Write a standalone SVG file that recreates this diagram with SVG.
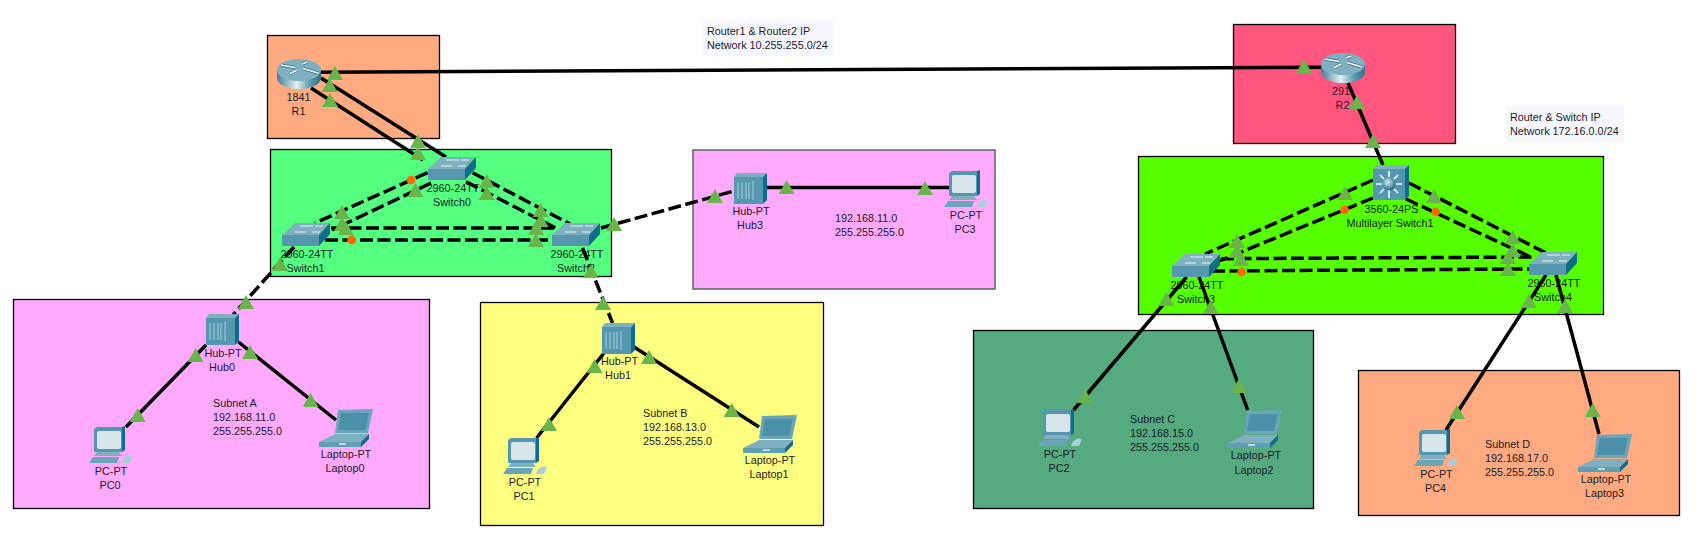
<svg xmlns="http://www.w3.org/2000/svg" width="1702" height="550" viewBox="0 0 1702 550">
<style>
text{font-family:"Liberation Sans",Arial,sans-serif;font-size:10.8px;fill:#1a1a2a}
.lb{text-anchor:middle}
.area{stroke:#000;stroke-width:1.3}
.note{fill:#f7f8ff}
.link{stroke:#000;stroke-width:3.5;fill:none}
.dash{stroke-dasharray:13 4.5}
.tri{fill:#69b54b}
.ora{fill:#ff6a00}
</style>
<defs>
<linearGradient id="gBody" x1="0" x2="1" y1="0" y2="0"><stop offset="0" stop-color="#3f7f95"/><stop offset=".45" stop-color="#e4f0f2"/><stop offset=".75" stop-color="#5b9bb0"/><stop offset="1" stop-color="#2f7188"/></linearGradient>
<radialGradient id="gBall" cx=".4" cy=".35" r=".7"><stop offset="0" stop-color="#dcecf0"/><stop offset=".6" stop-color="#5f9fb4"/><stop offset="1" stop-color="#1f5a70"/></radialGradient>
<polygon id="t" class="tri" points="-8,0 0,-14 8,0"/>
<g id="router">
<path d="M0,11V19A22,11 0 0 0 44,19V11Z" fill="url(#gBody)"/>
<ellipse cx="22" cy="11" rx="22" ry="11" fill="#7fb0c2"/>
<path d="M4,6 18,8.5M25,5 30,3M26,9.5 41,14M13,14.5 20,11" stroke="#2f6579" stroke-width="3" fill="none"/>
<path d="M4,6 18,8.5M25,5 30,3M26,9.5 41,14M13,14.5 20,11" stroke="#fff" stroke-width="1.7" fill="none"/>
</g>
<g id="switch">
<polygon points="0,12 37,12 37,23 0,23" fill="#5497af"/>
<polygon points="0,12 13,0 48,0 37,12" fill="#7fb0c0"/>
<polygon points="37,12 48,0 48,11 37,23" fill="#0f6d8c"/>
<path d="M13,9H24M18,3H31M33,3H41M30,9H38" stroke="#e8f4f6" stroke-width="1.2"/>
</g>
<g id="hub">
<polygon points="0,4 29,4 29,31 0,31" fill="#5497af"/>
<polygon points="0,4 3,0 33,0 29,4" fill="#7fb0c0"/>
<polygon points="29,4 33,0 33,27 29,31" fill="#0f6d8c"/>
<path d="M4,9V26M8,9V26M12,9V26M15,9V26M19,8V27" stroke="#a8d0dc" stroke-width="1"/>
</g>
<g id="ml">
<polygon points="0,4 32,4 32,35 0,35" fill="#5497af"/>
<polygon points="0,4 3,0 36,0 32,4" fill="#7fb0c0"/>
<polygon points="32,4 36,0 36,31 32,35" fill="#0f6d8c"/>
<path d="M16,6V12M16,25V33M3,19H9M23,19H29M7,10 11,14M25,10 21,14M7,28 11,24M25,28 21,24" stroke="#f2f8fa" stroke-width="1.7"/>
<circle cx="16" cy="19" r="6.3" fill="url(#gBall)"/>
</g>
<g id="pc">
<polygon points="5,2 8,0 33,0 33,25 5,25" fill="#5497af"/>
<polygon points="33,0 36,-1 36,23 33,25" fill="#0f6d8c"/>
<rect x="8" y="4" width="24" height="18" rx="2" fill="#d8e6ec"/>
<polygon points="8,25 30,25 33,29 5,29" fill="#7fb0c0"/>
<polygon points="4,30 30,30 28,36 0,36" fill="#6aa5b9"/>
<path d="M34,33Q38,27 44,29L41,36H33Z" fill="#a8d0dc"/>
</g>
<g id="laptop">
<polygon points="19,1 54,0 49,24 16,24" fill="#6aa5b9"/>
<polygon points="22,4 50,4 46,21 19,21" fill="#4b8fa8"/>
<polygon points="16,25 50,25 42,33 0,33" fill="#7fb0c0"/>
<polygon points="0,33 42,33 42,38 0,38" fill="#5f9fb4"/>
<polygon points="42,33 50,25 50,30 42,38" fill="#0f6d8c"/>
<path d="M20,35H27" stroke="#dcecf0" stroke-width="1.5"/>
</g>
</defs>

<g id="areas">
<rect class="area" x="267.5" y="35.5" width="172" height="103" fill="#ffaa80"/>
<rect class="area" x="270.5" y="149.5" width="341" height="127" fill="#55ff80"/>
<rect class="area" x="13.5" y="299.5" width="416" height="209" fill="#ffaaff"/>
<rect class="area" x="480.5" y="302.5" width="343" height="223" fill="#ffff80"/>
<rect x="693" y="150" width="302" height="139" fill="#ffaaff" stroke="#6a6a6a" stroke-width="1.6"/>
<rect class="area" x="1233.5" y="24.5" width="222" height="119" fill="#ff557f"/>
<rect class="area" x="1138.5" y="156.5" width="465" height="158" fill="#55ff00"/>
<rect class="area" x="973.5" y="330.5" width="340" height="178" fill="#55aa80"/>
<rect class="area" x="1358.5" y="370.5" width="321" height="145" fill="#ffaa80"/>
</g>

<g id="notes">
<g id="note-r1r2"><rect class="note" x="703" y="20" width="130" height="36"/><text x="707" y="35">Router1 &amp; Router2 IP</text><text x="707" y="49">Network 10.255.255.0/24</text></g>
<g id="note-rsw"><rect class="note" x="1506" y="106" width="118" height="36"/><text x="1510" y="121">Router &amp; Switch IP</text><text x="1510" y="135">Network 172.16.0.0/24</text></g>
<g id="note-a"><text x="213" y="407">Subnet A</text><text x="213" y="421">192.168.11.0</text><text x="213" y="435">255.255.255.0</text></g>
<g id="note-b"><text x="643" y="417">Subnet B</text><text x="643" y="431">192.168.13.0</text><text x="643" y="445">255.255.255.0</text></g>
<g id="note-hub3"><text x="835" y="222">192.168.11.0</text><text x="835" y="236">255.255.255.0</text></g>
<g id="note-c"><text x="1130" y="423">Subnet C</text><text x="1130" y="437">192.168.15.0</text><text x="1130" y="451">255.255.255.0</text></g>
<g id="note-d"><text x="1485" y="448">Subnet D</text><text x="1485" y="462">192.168.17.0</text><text x="1485" y="476">255.255.255.0</text></g>
</g>

<g id="labels-r1"><text class="lb" x="298.5" y="101">1841</text><text class="lb" x="298.5" y="115">R1</text></g>
<g id="labels-r2"><text x="1332" y="95">291</text><text class="lb" x="1342.5" y="109">R2</text></g>
<g id="labels-sw"><text class="lb" x="453" y="192">2960-24TT</text><text class="lb" x="452" y="206">Switch0</text>
<text class="lb" x="307" y="258">2960-24TT</text><text class="lb" x="305.5" y="272">Switch1</text>
<text class="lb" x="577" y="258">2960-24TT</text><text class="lb" x="576" y="272">Switch2</text>
<text class="lb" x="1197" y="289">2960-24TT</text><text class="lb" x="1196" y="303">Switch3</text>
<text class="lb" x="1554" y="287">2960-24TT</text><text class="lb" x="1553" y="301">Switch4</text></g>

<g id="connectors">
<path class="link" d="M321,72.3 1321,67.3"/>
<path class="link" d="M321,78 446,157M311,88 423,160"/>
<path class="link dash" d="M427.5,172.7 315,223M431,183 332,230"/>
<path class="link dash" d="M472.6,172.7 570,224M466,181.7 557.6,229"/>
<path class="link dash" d="M331,228H555.5M325,240H552"/>
<path class="link dash" d="M294,247 233,315"/>
<path class="link dash" d="M582.5,248 612.5,323"/>
<path class="link dash" d="M601,228 734,191"/>
<path class="link" d="M206,345 126,427M238.5,342 336,420"/>
<path class="link" d="M604,353 536.6,438M634,347 759,427"/>
<path class="link" d="M767,187.5H949"/>
<path class="link" d="M1348,83 1383,165"/>
<path class="link dash" d="M1373,180 1205,254M1373,198 1219,261"/>
<path class="link dash" d="M1409,183 1546,253M1406,199 1533,258"/>
<path class="link dash" d="M1221,258.7 1533,257M1212,271 1529,269"/>
<path class="link" d="M1186.5,277 1073.6,410M1199,277 1247.7,410"/>
<path class="link" d="M1546,275 1446,430M1556,275 1599,434"/>
</g>

<g id="R1"><use href="#router" x="277" y="59"/></g>
<g id="R2"><use href="#router" x="1321" y="53"/></g>
<g id="Switch0"><use href="#switch" x="428" y="157"/></g>
<g id="Switch1"><use href="#switch" x="282" y="223"/></g>
<g id="Switch2"><use href="#switch" x="552" y="223"/></g>
<g id="Switch3"><use href="#switch" x="1172" y="254"/></g>
<g id="Switch4"><use href="#switch" x="1529" y="252"/></g>
<g id="MultilayerSwitch1"><use href="#ml" x="1373" y="165"/><text class="lb" x="1391.5" y="213">3560-24PS</text><text class="lb" x="1390" y="227">Multilayer Switch1</text></g>
<g id="Hub0"><use href="#hub" x="206" y="314"/><text class="lb" x="223" y="357">Hub-PT</text><text class="lb" x="222" y="371">Hub0</text></g>
<g id="Hub1"><use href="#hub" x="602" y="323"/><text class="lb" x="619.5" y="365">Hub-PT</text><text class="lb" x="618" y="379">Hub1</text></g>
<g id="Hub3"><use href="#hub" x="734" y="173"/><text class="lb" x="751" y="215">Hub-PT</text><text class="lb" x="750" y="229">Hub3</text></g>
<g id="PC0"><use href="#pc" x="89" y="427"/><text class="lb" x="111" y="475">PC-PT</text><text class="lb" x="110" y="489">PC0</text></g>
<g id="PC1"><use href="#pc" x="503" y="438"/><text class="lb" x="525" y="486">PC-PT</text><text class="lb" x="524" y="500">PC1</text></g>
<g id="PC2"><use href="#pc" x="1038" y="410"/><text class="lb" x="1060" y="458">PC-PT</text><text class="lb" x="1059" y="472">PC2</text></g>
<g id="PC3"><use href="#pc" x="944" y="171"/><text class="lb" x="966" y="219">PC-PT</text><text class="lb" x="965" y="233">PC3</text></g>
<g id="PC4"><use href="#pc" x="1414" y="430"/><text class="lb" x="1436.5" y="478">PC-PT</text><text class="lb" x="1435.5" y="492">PC4</text></g>
<g id="Laptop0"><use href="#laptop" x="319" y="409"/><text class="lb" x="346" y="458">Laptop-PT</text><text class="lb" x="345" y="472">Laptop0</text></g>
<g id="Laptop1"><use href="#laptop" x="743" y="415"/><text class="lb" x="770" y="464">Laptop-PT</text><text class="lb" x="769" y="478">Laptop1</text></g>
<g id="Laptop2"><use href="#laptop" x="1228" y="410"/><text class="lb" x="1256" y="459">Laptop-PT</text><text class="lb" x="1254" y="474">Laptop2</text></g>
<g id="Laptop3"><use href="#laptop" x="1578" y="434"/><text class="lb" x="1606" y="483">Laptop-PT</text><text class="lb" x="1604.5" y="497">Laptop3</text></g>

<g id="link-lights">
<use href="#t" x="335" y="80"/><use href="#t" x="329.6" y="92"/><use href="#t" x="330" y="107"/>
<use href="#t" x="418" y="148"/><use href="#t" x="418" y="160"/>
<use href="#t" x="486.7" y="188"/><use href="#t" x="486.7" y="200"/><use href="#t" x="415.4" y="197"/>
<use href="#t" x="342" y="219"/><use href="#t" x="342" y="231"/><use href="#t" x="345.8" y="235"/>
<use href="#t" x="540.6" y="217"/><use href="#t" x="540.6" y="227"/><use href="#t" x="536" y="235"/><use href="#t" x="536" y="247"/>
<use href="#t" x="614" y="231"/><use href="#t" x="590.8" y="278"/><use href="#t" x="280" y="271"/>
<use href="#t" x="246" y="309"/><use href="#t" x="195.7" y="362"/><use href="#t" x="250" y="359"/><use href="#t" x="310.6" y="407"/><use href="#t" x="137.7" y="422"/>
<use href="#t" x="603" y="310"/><use href="#t" x="594.6" y="373"/><use href="#t" x="649" y="364"/><use href="#t" x="731.7" y="417"/><use href="#t" x="549" y="431"/>
<use href="#t" x="715" y="203"/><use href="#t" x="786.7" y="194"/><use href="#t" x="925" y="195"/>
<use href="#t" x="1304" y="73"/><use href="#t" x="1357" y="109"/><use href="#t" x="1373" y="148"/>
<use href="#t" x="1345" y="200"/><use href="#t" x="1434" y="203"/>
<use href="#t" x="1237" y="248"/><use href="#t" x="1237" y="258"/><use href="#t" x="1241" y="266"/>
<use href="#t" x="1512.7" y="244"/><use href="#t" x="1512.7" y="257"/><use href="#t" x="1508" y="264"/><use href="#t" x="1508" y="276"/>
<use href="#t" x="1166.5" y="306"/><use href="#t" x="1210.6" y="314"/><use href="#t" x="1529" y="308"/><use href="#t" x="1565" y="313"/>
<use href="#t" x="1085" y="403"/><use href="#t" x="1238.7" y="393"/><use href="#t" x="1457" y="419"/><use href="#t" x="1592.7" y="417"/>
<circle class="ora" cx="411" cy="180" r="4.4"/><circle class="ora" cx="351.6" cy="240" r="4.4"/>
<circle class="ora" cx="1344.5" cy="210" r="4.4"/><circle class="ora" cx="1435.7" cy="212" r="4.4"/><circle class="ora" cx="1241.6" cy="272" r="4.4"/>
</g>
</svg>
